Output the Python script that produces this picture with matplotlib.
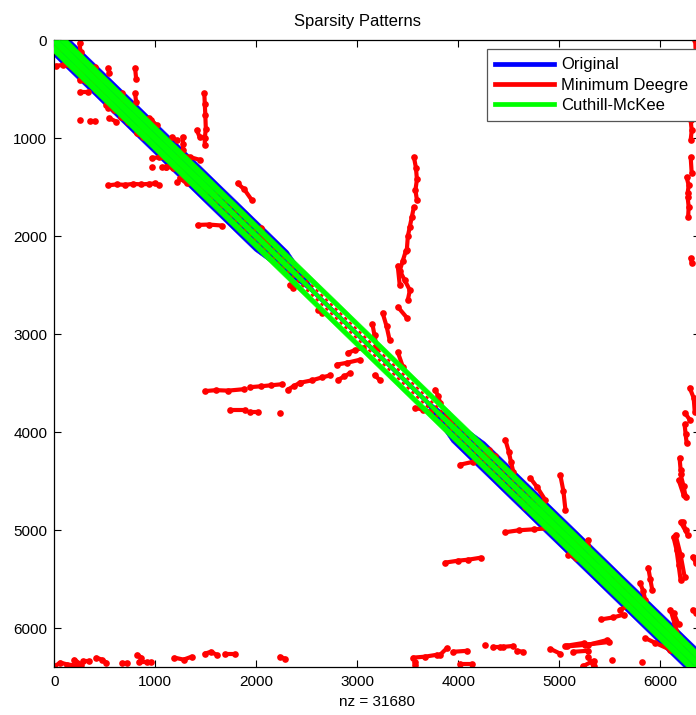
import numpy as np
import matplotlib
matplotlib.use("Agg")
from matplotlib import pyplot as plt
from matplotlib.lines import Line2D

plt.rcParams['font.family'] = 'Liberation Sans'

n = 6392
nz = 31680

# original ordering: band half-width (columns) along the rows
blue_rows = [0, 2150, 2550, 3700, 4100, 6400]
blue_half = [165, 165, 27, 27, 165, 165]

# Cuthill-McKee: band split into three stripes, gaps around +/-red_off
green_rows = [0, 1500, 1700, 2300, 2600, 3700, 3950, 4600, 4800, 6400]
green_gap = [0, 0, 8, 8, 21, 21, 8, 8, 0, 0]
green_half = 135
red_off = 47
red_diag_rows = [1500, 4800]

# minimum degree ordering, strokes of (col, row)
md_upper = [
    [(20, 40), (70, 90), (130, 110)],
    [(250, 30), (260, 120), (270, 200)],
    [(20, 260), (90, 250), (170, 265)],
    [(400, 275), (430, 355)],
    [(530, 285), (545, 335)],
    [(800, 280), (810, 390)],
    [(800, 540), (810, 630)],
    [(250, 530), (330, 530)],
    [(675, 540), (695, 610)],
    [(530, 690), (590, 700)],
    [(545, 795), (615, 830)],
    [(258, 813)],
    [(350, 823), (400, 823)],
    [(815, 950), (875, 985)],
    [(962, 815), (962, 865)],
    [(1270, 985), (1275, 1060), (1275, 1120)],
    [(1170, 990), (1210, 1020)],
    [(965, 1200), (1040, 1195), (1110, 1205)],
    [(972, 1293)],
    [(1070, 1293), (1110, 1293)],
    [(530, 1480), (620, 1470), (700, 1475), (780, 1465), (860, 1470),
     (940, 1465), (1000, 1460), (1040, 1480)],
    [(1210, 1448)],
    [(1410, 915), (1440, 990)],
    [(1485, 540), (1490, 650), (1495, 760), (1500, 900), (1490, 1000), (1490, 1070)],
    [(130, 235), (200, 280), (270, 320)],
    [(350, 323), (400, 360), (450, 405)],
    [(250, 405), (310, 420), (375, 435)],
    [(415, 510), (475, 540)],
    [(515, 660), (595, 710)],
    [(575, 580), (645, 630)],
    [(665, 780), (725, 835)],
    [(843, 895), (913, 965)],
    [(942, 795), (1012, 865)],
    [(1110, 1290), (1180, 1300), (1240, 1320)],
    [(1240, 1405), (1310, 1460)],
    [(1240, 1170), (1340, 1190), (1440, 1220)],
    [(1815, 1460), (1880, 1520), (1955, 1630)],
    [(1418, 1884), (1530, 1880), (1656, 1890)],
    [(2050, 1915), (2080, 2000), (2110, 2090)],
    [(2330, 2495), (2360, 2525)],
    [(2610, 2750), (2650, 2780)],
]

md_spike = [
    [(3560, 1190), (3580, 1300), (3590, 1420), (3575, 1530), (3590, 1630)],
    [(3560, 1700), (3540, 1800), (3520, 1900), (3500, 2000), (3490, 2140)],
    [(3480, 2150), (3450, 2250), (3420, 2350), (3470, 2450), (3520, 2550), (3500, 2650)],
    [(3400, 2300), (3420, 2500)],
    [(3400, 2720), (3490, 2830)],
    [(3250, 2780), (3290, 2920), (3320, 3060)],
    [(3150, 2900), (3170, 3010), (3190, 3130)],
    [(3400, 3180), (3450, 3330)],
    [(3170, 3415), (3220, 3465)],
    [(3570, 3750), (3650, 3770), (3720, 3790)],
    [(3770, 3565), (3800, 3630), (3820, 3700)],
    [(3890, 3800), (3920, 3900)],
]

md_arm = [
    [(2905, 3190), (2980, 3160), (3055, 3140)],
    [(2795, 3310), (2900, 3290), (3025, 3260)],
    [(2430, 3495), (2550, 3470), (2650, 3440), (2730, 3420)],
    [(2810, 3465), (2870, 3430), (2930, 3395)],
    [(1935, 3540), (2050, 3530), (2150, 3520), (2250, 3510)],
    [(2310, 3565), (2370, 3530), (2430, 3495)],
    [(1490, 3580), (1600, 3570), (1720, 3575), (1880, 3560)],
    [(1735, 3770), (1885, 3770)],
    [(1935, 3790), (2015, 3790)],
    [(2230, 3800)],
]

md_lower = [
    [(4020, 4330), (4150, 4300), (4310, 4230)],
    [(4465, 4075), (4500, 4200), (4520, 4300), (4545, 4405)],
    [(4710, 4465), (4780, 4560), (4860, 4690)],
    [(5010, 4440), (5040, 4600), (5060, 4790)],
    [(4465, 5020), (4600, 5000), (4750, 4990), (4960, 4975)],
    [(3870, 5330), (4000, 5310), (4100, 5300), (4220, 5280)],
    [(5090, 5250), (5160, 5280)],
    [(5280, 5100), (5310, 5250)],
    [(5410, 5370), (5500, 5430)],
    [(5650, 5640), (5720, 5710)],
    [(5410, 5910), (5530, 5890), (5640, 5860)],
    [(5600, 5810), (5690, 5770), (5770, 5740)],
    [(5880, 5380), (5900, 5500), (5920, 5610)],
    [(5800, 5540), (5830, 5620), (5850, 5710)],
    [(6130, 5070), (6160, 5200), (6180, 5350), (6200, 5505)],
    [(6200, 4915), (6270, 5045)],
    [(6180, 4485), (6230, 4640)],
    [(6320, 5270), (6350, 5330)],
    [(6100, 5810), (6140, 5950), (6180, 6085)],
    [(5850, 6100), (5950, 6150), (6100, 6220)],
    [(5080, 6185), (5250, 6170), (5490, 6140)],
    [(5280, 6290), (5340, 6390)],
    [(5520, 6320)],
    [(5820, 6340)],
    [(6000, 5910), (6100, 6030), (6200, 6150)],
    [(6130, 5840), (6180, 5960)],
    [(6320, 5810), (6350, 5840)],
    [(4300, 4180), (4360, 4240)],
    [(4620, 4700), (4660, 4760)],
    [(4900, 4890), (4950, 4960)],
    [(5150, 5100), (5200, 5160)],
    [(5560, 5520), (5620, 5560)],
]

md_right = [
    [(6345, 0), (6350, 130), (6355, 270)],
    [(6330, 300), (6350, 400), (6340, 510)],
    [(6345, 540), (6350, 640), (6345, 740)],
    [(6300, 815), (6310, 920), (6300, 1020)],
    [(6300, 1190), (6310, 1355)],
    [(6260, 1395), (6280, 1480), (6270, 1560)],
    [(6270, 1600), (6280, 1700), (6275, 1800)],
    [(6300, 2220), (6310, 2270)],
    [(6290, 3545), (6330, 3650), (6340, 3790)],
    [(6240, 3800), (6290, 3870)],
    [(6240, 3920), (6250, 4020), (6260, 4110)],
    [(6190, 4260), (6200, 4380)],
    [(6200, 4430), (6230, 4550), (6250, 4660)],
    [(6220, 4915), (6250, 4995)],
    [(6150, 5045), (6200, 5250), (6240, 5475)],
]

md_bottom = [
    [(0, 6390), (60, 6350), (130, 6370), (220, 6380)],
    [(198, 6320), (268, 6370)],
    [(280, 6330), (347, 6330)],
    [(417, 6300), (470, 6320), (516, 6350)],
    [(675, 6350), (724, 6350)],
    [(823, 6270), (863, 6300)],
    [(843, 6345), (913, 6345)],
    [(962, 6340)],
    [(1190, 6300), (1280, 6320), (1360, 6290)],
    [(1488, 6260), (1550, 6240), (1607, 6270)],
    [(1686, 6260), (1785, 6260)],
    [(2232, 6290), (2282, 6310)],
    [(3552, 6300), (3670, 6290), (3790, 6270)],
    [(3571, 6340), (3571, 6370)],
    [(3820, 6270), (3890, 6200)],
    [(3950, 6240), (4090, 6230)],
    [(4020, 6360), (4140, 6360)],
    [(4265, 6170)],
    [(4345, 6190), (4415, 6190)],
    [(4445, 6190), (4545, 6180)],
    [(4580, 6230), (4640, 6240)],
    [(4910, 6210), (5010, 6260)],
    [(5060, 6180), (5240, 6150)],
    [(5140, 6240), (5280, 6230)],
    [(5280, 6170), (5475, 6120)],
    [(5230, 6390), (5340, 6330)],
]

BLUE, RED, GREEN = '#0000ff', '#ff0000', '#00ff00'


def band(ax, rows, lo, hi, color, z):
    rows = np.asarray(rows, float)
    lo = np.broadcast_to(lo, rows.shape)
    hi = np.broadcast_to(hi, rows.shape)
    xs = np.concatenate([rows + lo, (rows + hi)[::-1]])
    ys = np.concatenate([rows, rows[::-1]])
    ax.fill(xs, ys, color=color, lw=0.3, zorder=z)


fig = plt.figure(figsize=(6.96, 7.15), dpi=100)
ax = fig.add_axes([0.078, 0.0676, 0.9277, 0.876])

half = np.asarray(blue_half, float)
band(ax, blue_rows, -half, half, BLUE, 1)

for group in [md_upper, md_spike, md_arm, md_lower, md_right, md_bottom]:
    for stroke in group:
        cols = [p[0] for p in stroke]
        rows = [p[1] for p in stroke]
        ax.plot(cols, rows, '-o', color=RED, lw=3.0, ms=4.8, mew=0,
                solid_capstyle='round', zorder=2)

rr = np.asarray(red_diag_rows, float)
for s in (-1, 1):
    ax.plot(rr + s * red_off, rr, color=RED, lw=1.6, dashes=(1.5, 1.5), zorder=2)

gap = np.asarray(green_gap, float)
band(ax, green_rows, -green_half, -(red_off + gap), GREEN, 3)
band(ax, green_rows, -(red_off - gap), red_off - gap, GREEN, 3)
band(ax, green_rows, red_off + gap, green_half, GREEN, 3)

ax.set_xlim(0, n)
ax.set_ylim(n, 0)
ax.set_xticks(range(0, 7000, 1000))
ax.set_yticks(range(0, 7000, 1000))
ax.tick_params(direction='in', top=True, right=True, length=5, width=0.8,
               labelsize=11)
ax.tick_params(axis='x', pad=6)
ax.tick_params(axis='y', pad=5)
for sp in ax.spines.values():
    sp.set_linewidth(0.9)

ax.set_xlabel(f'nz = {nz}', fontsize=11, labelpad=4)
ax.set_title('Sparsity Patterns', fontsize=12, x=0.469, pad=10)

handles = [Line2D([], [], color=BLUE, lw=3.4),
           Line2D([], [], color=RED, lw=3.4),
           Line2D([], [], color=GREEN, lw=3.4)]
labels = ['Original', 'Minimum Deegre', 'Cuthill-McKee']
leg = fig.legend(handles, labels, loc='upper left',
                 bbox_to_anchor=(487 / 696, 1 - 49 / 715),
                 bbox_transform=fig.transFigure, borderaxespad=0,
                 fontsize=12, handlelength=3.5, handletextpad=0.45,
                 labelspacing=0.32, borderpad=0.5, fancybox=False,
                 framealpha=1, edgecolor='#555555')
leg.get_frame().set_linewidth(0.9)

fig.savefig('out.png', dpi=100)
